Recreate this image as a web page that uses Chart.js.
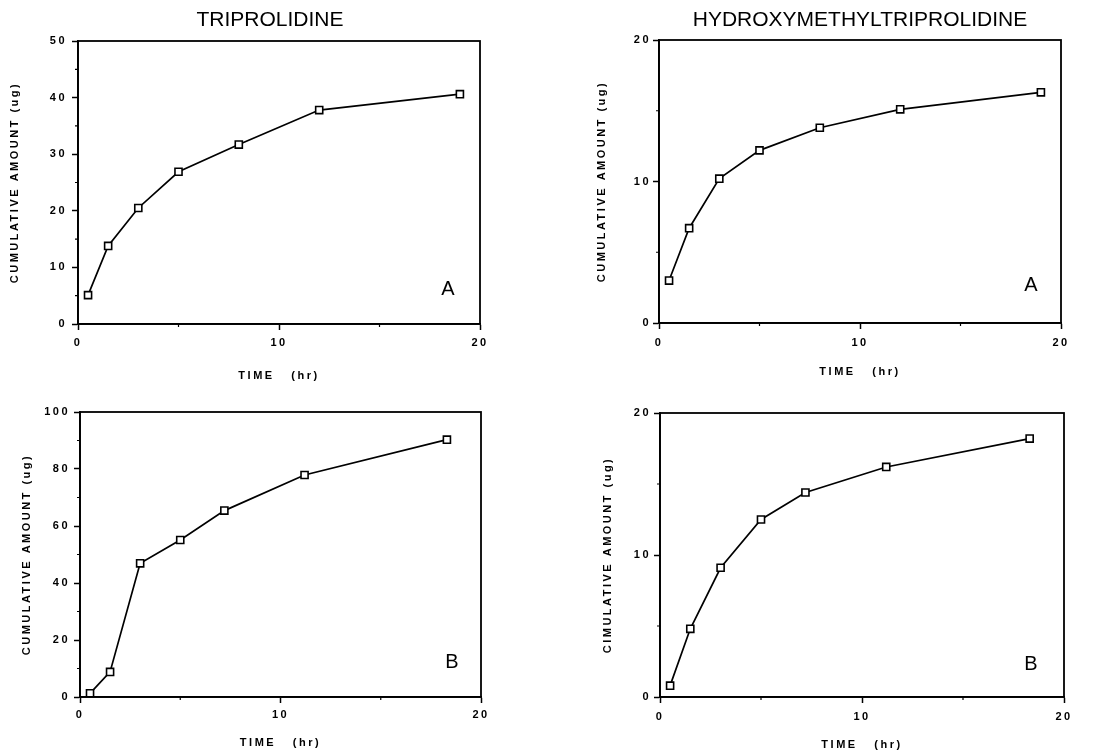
<!DOCTYPE html>
<html>
<head>
<meta charset="utf-8">
<script src="https://cdn.jsdelivr.net/npm/chart.js@4.4.1/dist/chart.umd.min.js"></script>
<style>
  body { margin: 0; background: #fff; }
  #wrap { position: relative; width: 1099px; height: 753px; overflow: hidden; background: #fff; }
  canvas { position: absolute; }
</style>
</head>
<body>
<div id="wrap">
  <canvas id="tl" width="549" height="390" style="left:0;top:0"></canvas>
  <canvas id="tr" width="550" height="390" style="left:549px;top:0"></canvas>
  <canvas id="bl" width="549" height="363" style="left:0;top:390px"></canvas>
  <canvas id="br" width="550" height="363" style="left:549px;top:390px"></canvas>
</div>
<script>
// Cumulative amount excreted vs time, study A (top row) and B (bottom row)
const timeA = [0.5, 1.5, 3, 5, 8, 12, 19];
const triprolidineA = [5.1, 13.8, 20.5, 26.9, 31.7, 37.8, 40.6];
const hydroxyA = [3.0, 6.7, 10.2, 12.2, 13.8, 15.1, 16.3];

const timeB = [0.5, 1.5, 3, 5, 7.2, 11.2, 18.3];
const triprolidineB = [1.3, 8.8, 46.9, 55.1, 65.4, 77.9, 90.3];
const hydroxyB = [0.8, 4.8, 9.1, 12.5, 14.4, 16.2, 18.2];

// tick labels
const xLabels = [0, 10, 20];
const yLabelsTriA = [0, 10, 20, 30, 40, 50];
const yLabelsTriB = [0, 20, 40, 60, 80, 100];
const yLabelsHmt = [0, 10, 20];

const FONT = '"Liberation Sans", Arial, sans-serif';

// frame, minor ticks, panel title and letter
const panelPlugin = {
    id: 'panel',
    beforeDraw(chart) {
        chart.ctx.letterSpacing = '2.5px';
    },
    afterDraw(chart, args, opts) {
        const { ctx, chartArea: a, scales } = chart;
        ctx.save();
        ctx.letterSpacing = '0px';
        ctx.strokeStyle = '#000';
        ctx.lineWidth = 1.8;
        ctx.strokeRect(a.left, a.top, a.right - a.left, a.bottom - a.top);

        // short minor ticks
        ctx.lineWidth = 1.2;
        ctx.beginPath();
        scales.x.ticks.forEach(t => {
            if (xLabels.includes(t.value)) return;
            const px = scales.x.getPixelForValue(t.value);
            ctx.moveTo(px, a.bottom);
            ctx.lineTo(px, a.bottom + 3);
        });
        scales.y.ticks.forEach(t => {
            if (opts.yLabels.includes(t.value)) return;
            const py = scales.y.getPixelForValue(t.value);
            ctx.moveTo(a.left - 3, py);
            ctx.lineTo(a.left, py);
        });
        ctx.stroke();

        ctx.fillStyle = '#000';
        ctx.textAlign = 'center';
        ctx.textBaseline = 'alphabetic';
        if (opts.title) {
            ctx.font = '21px ' + FONT;
            ctx.fillText(opts.title, opts.titleX, opts.titleY);
        }
        ctx.font = '20px ' + FONT;
        ctx.fillText(opts.letter, a.right - opts.letterDx, a.bottom - opts.letterDy);
        ctx.restore();
    }
};

function makePanel(id, cfg) {
    const tickFont = { family: FONT, weight: 'bold', size: 11 };
    const points = cfg.times.map((t, i) => ({ x: t, y: cfg.values[i] }));
    return new Chart(document.getElementById(id), {
        type: 'line',
        data: {
            datasets: [{
                data: points,
                borderColor: '#000',
                borderWidth: 1.7,
                pointStyle: 'rect',
                pointRadius: 5,
                pointBorderWidth: 1.6,
                pointBackgroundColor: '#fff',
                pointBorderColor: '#000',
                tension: 0
            }]
        },
        options: {
            responsive: false,
            animation: false,
            events: [],
            layout: { padding: { top: cfg.padTop, right: cfg.padRight, left: 0, bottom: 0 } },
            plugins: {
                legend: { display: false },
                tooltip: { enabled: false },
                panel: {
                    title: cfg.title, titleX: cfg.titleX, titleY: cfg.titleY,
                    letter: cfg.letter, letterDx: cfg.letterDx, letterDy: cfg.letterDy,
                    yLabels: cfg.yLabels
                }
            },
            scales: {
                x: {
                    type: 'linear',
                    min: 0,
                    max: 20,
                    ticks: {
                        stepSize: 5,
                        autoSkip: false,
                        maxRotation: 0,
                        padding: cfg.xTickPad,
                        color: '#000',
                        font: tickFont,
                        callback: v => xLabels.includes(v) ? String(v) : ''
                    },
                    grid: {
                        drawOnChartArea: false,
                        tickLength: 6,
                        tickWidth: 1.5,
                        tickColor: c => xLabels.includes(c.tick.value) ? '#000' : 'rgba(0,0,0,0)'
                    },
                    border: { color: '#000', width: 1.8 },
                    title: {
                        display: true,
                        text: 'TIME   (hr)',
                        color: '#000',
                        font: tickFont,
                        padding: { top: 0, bottom: cfg.xTitlePad }
                    },
                    afterFit: s => { s.height = cfg.xHeight; }
                },
                y: {
                    type: 'linear',
                    min: 0,
                    max: cfg.yMax,
                    ticks: {
                        stepSize: cfg.yMinor,
                        autoSkip: false,
                        padding: cfg.yTickPad,
                        color: '#000',
                        font: tickFont,
                        callback: v => cfg.yLabels.includes(v) ? String(v) : ''
                    },
                    grid: {
                        drawOnChartArea: false,
                        tickLength: 6,
                        tickWidth: 1.5,
                        tickColor: c => cfg.yLabels.includes(c.tick.value) ? '#000' : 'rgba(0,0,0,0)'
                    },
                    border: { color: '#000', width: 1.8 },
                    title: {
                        display: true,
                        text: cfg.yTitle,
                        color: '#000',
                        font: tickFont,
                        padding: { top: cfg.yTitlePad, bottom: 0 }
                    },
                    afterFit: s => { s.width = cfg.yWidth; }
                }
            }
        },
        plugins: [panelPlugin]
    });
}

makePanel('tl', {
    times: timeA, values: triprolidineA, yMax: 50, yMinor: 5, yLabels: yLabelsTriA,
    yTitle: 'CUMULATIVE AMOUNT (ug)',
    title: 'TRIPROLIDINE', titleX: 270, titleY: 26,
    letter: 'A', letterDx: 32, letterDy: 29,
    padTop: 41, padRight: 69, yWidth: 78, xHeight: 66,
    yTickPad: 5, xTickPad: 6, yTitlePad: 8, xTitlePad: 7
});

makePanel('tr', {
    times: timeA, values: hydroxyA, yMax: 20, yMinor: 5, yLabels: yLabelsHmt,
    yTitle: 'CUMULATIVE AMOUNT (ug)',
    title: 'HYDROXYMETHYLTRIPROLIDINE', titleX: 311, titleY: 26,
    letter: 'A', letterDx: 30, letterDy: 32,
    padTop: 40, padRight: 38, yWidth: 110, xHeight: 67,
    yTickPad: 2, xTickPad: 7, yTitlePad: 46, xTitlePad: 11
});

makePanel('bl', {
    times: timeB, values: triprolidineB, yMax: 100, yMinor: 10, yLabels: yLabelsTriB,
    yTitle: 'CUMULATIVE AMOUNT (ug)',
    title: '', titleX: 0, titleY: 0,
    letter: 'B', letterDx: 29, letterDy: 29,
    padTop: 22, padRight: 68, yWidth: 80, xHeight: 56,
    yTickPad: 4, xTickPad: 5, yTitlePad: 20, xTitlePad: 3
});

makePanel('br', {
    times: timeB, values: hydroxyB, yMax: 20, yMinor: 5, yLabels: yLabelsHmt,
    yTitle: 'CIMULATIVE AMOUNT (ug)',
    title: '', titleX: 0, titleY: 0,
    letter: 'B', letterDx: 33, letterDy: 27,
    padTop: 23, padRight: 35, yWidth: 111, xHeight: 56,
    yTickPad: 3, xTickPad: 7, yTitlePad: 52, xTitlePad: 1
});
</script>
</body>
</html>
